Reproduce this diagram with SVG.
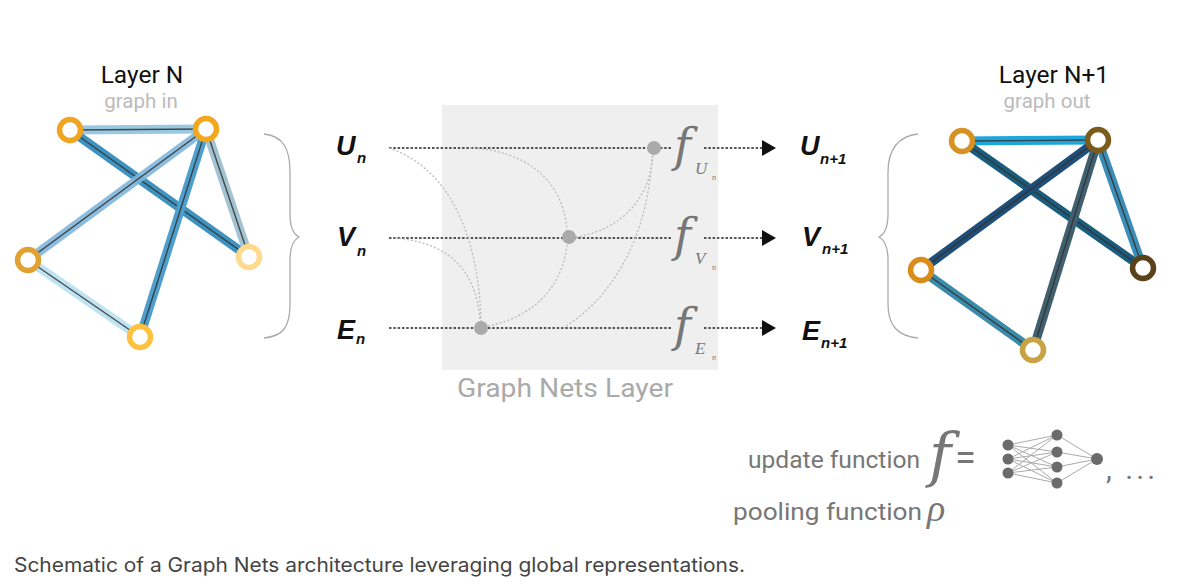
<svg xmlns="http://www.w3.org/2000/svg" width="1183" height="583" viewBox="0 0 1183 583">
<defs>
<style>
.node{fill:#fff;stroke-width:5.5}
.band{fill:none;stroke-width:9;stroke-linecap:butt}
.core{fill:none;stroke:#333;stroke-width:1.4;opacity:0.85}
.brace{fill:none;stroke:#aaa;stroke-width:1.3}
.main{fill:none;stroke:#222;stroke-width:1.7;stroke-dasharray:2.5,1.8}
.flow{fill:none;stroke:#bbb;stroke-width:1.3;stroke-dasharray:2,2}
.dot{fill:#aaa}
.lab{font-family:"Liberation Sans",Arial,sans-serif;font-weight:bold;font-style:italic;fill:#111}
.fn{font-family:"Liberation Serif","Times New Roman",serif;font-style:italic;fill:#777}
.ff{font-family:"DejaVu Serif","Liberation Serif",serif;font-style:italic;fill:#777}
.ttl{font-family:Roboto,"Liberation Sans",sans-serif;fill:#111;font-size:24.5px;text-anchor:middle}
.sub{font-family:Roboto,"Liberation Sans",sans-serif;fill:#bbb;font-size:20.5px;text-anchor:middle}
.leg{font-family:Roboto,"Liberation Sans",sans-serif;fill:#777;font-size:23px}
.nn{fill:#6b6b6b}
.nl{stroke:#aaa;stroke-width:1}
</style>
<marker id="arr" markerWidth="15" markerHeight="17" refX="0" refY="8" orient="auto" markerUnits="userSpaceOnUse">
<path d="M0,0 L14,8 L0,16 Z" fill="#111"/>
</marker>
</defs>

<rect id="layer-box" x="442" y="105" width="276" height="265" fill="#efefef"/>

<g id="labels-top">
<text class="ttl" x="142" y="83">Layer N</text>
<text class="sub" x="141" y="108">graph in</text>
<text class="ttl" x="1054" y="83">Layer N+1</text>
<text class="sub" x="1047" y="108">graph out</text>
</g>

<g id="graph-in">
<g id="edges-in">
<line class="band" x1="70" y1="130" x2="206" y2="129" stroke="#86c0dc" opacity="0.85"/>
<line class="core" x1="70" y1="130" x2="206" y2="129"/>
<line class="band" x1="70" y1="130" x2="249" y2="257" stroke="#3d92c0"/>
<line class="core" x1="70" y1="130" x2="249" y2="257"/>
<line class="band" x1="206" y1="129" x2="28" y2="260" stroke="#7fb6da" opacity="0.9"/>
<line class="core" x1="206" y1="129" x2="28" y2="260"/>
<line class="band" x1="206" y1="129" x2="140" y2="337" stroke="#4f9fcc"/>
<line class="core" x1="206" y1="129" x2="140" y2="337"/>
<line class="band" x1="206" y1="129" x2="249" y2="257" stroke="#a3c3d2"/>
<line class="core" x1="206" y1="129" x2="249" y2="257"/>
<line class="band" x1="28" y1="260" x2="140" y2="337" stroke="#bfe3f2"/>
<line class="core" x1="28" y1="260" x2="140" y2="337"/>
</g>
<circle id="in-n1" class="node" cx="70" cy="130" r="10.5" stroke="#f0a422"/>
<circle id="in-n2" class="node" cx="206" cy="129" r="10.5" stroke="#f2a81c"/>
<circle id="in-n3" class="node" cx="28" cy="260" r="10.5" stroke="#e2a232"/>
<circle id="in-n4" class="node" cx="249" cy="257" r="10.5" stroke="#ffd98c"/>
<circle id="in-n5" class="node" cx="140" cy="337" r="10.5" stroke="#ffc23e"/>
</g>

<g id="graph-out">
<g id="edges-out">
<line class="band" x1="962" y1="141" x2="1098" y2="140" stroke="#1ea6dc" stroke-width="10"/>
<line class="core" x1="962" y1="141" x2="1098" y2="140"/>
<line class="band" x1="962" y1="141" x2="1143" y2="268" stroke="#1a5c7c" stroke-width="11"/>
<line class="core" x1="962" y1="141" x2="1143" y2="268"/>
<line class="band" x1="1098" y1="140" x2="921" y2="270" stroke="#1f4e78" stroke-width="12"/>
<line class="core" x1="1098" y1="140" x2="921" y2="270"/>
<line class="band" x1="1098" y1="140" x2="1033" y2="350" stroke="#41606f" stroke-width="11"/>
<line class="core" x1="1098" y1="140" x2="1033" y2="350"/>
<line class="band" x1="1098" y1="140" x2="1143" y2="268" stroke="#3a8db6" stroke-width="10"/>
<line class="core" x1="1098" y1="140" x2="1143" y2="268"/>
<line class="band" x1="921" y1="270" x2="1033" y2="350" stroke="#3a8aa9" stroke-width="11"/>
<line class="core" x1="921" y1="270" x2="1033" y2="350"/>
</g>
<circle id="out-n1" class="node" cx="962" cy="141" r="10.5" stroke="#d89222"/>
<circle id="out-n2" class="node" cx="1098" cy="140" r="10.5" stroke="#7c5c1a"/>
<circle id="out-n3" class="node" cx="921" cy="270" r="10.5" stroke="#d98c1a"/>
<circle id="out-n4" class="node" cx="1143" cy="268" r="10.5" stroke="#5a421a"/>
<circle id="out-n5" class="node" cx="1033" cy="350" r="10.5" stroke="#c9a244"/>
</g>

<g id="braces">
<path class="brace" d="M264,134 C284,136 290,150 290,172 L290,214 C290,228 293,234 299,237 C293,240 290,246 290,260 L290,304 C290,326 284,336 264,338"/>
<path class="brace" d="M918,134 C898,136 888,150 888,172 L888,214 C888,228 885,234 879,237 C885,240 888,246 888,260 L888,304 C888,326 898,336 918,338"/>
</g>

<g id="inputs">
<text class="lab" x="336" y="155" font-size="27">U</text><text class="lab" x="357" y="163" font-size="15">n</text>
<text class="lab" x="337" y="246" font-size="27">V</text><text class="lab" x="357" y="256" font-size="15">n</text>
<text class="lab" x="337" y="339" font-size="27">E</text><text class="lab" x="356" y="344" font-size="15">n</text>
</g>

<g id="outputs">
<text class="lab" x="800" y="155" font-size="27">U</text><text class="lab" x="820" y="164" font-size="15">n+1</text>
<text class="lab" x="802" y="246" font-size="27">V</text><text class="lab" x="822" y="254" font-size="15">n+1</text>
<text class="lab" x="802" y="340" font-size="27">E</text><text class="lab" x="821" y="348" font-size="15">n+1</text>
</g>

<g id="connectors">
<line class="main" x1="389" y1="148" x2="672" y2="148"/>
<line class="main" x1="389" y1="238" x2="672" y2="238"/>
<line class="main" x1="389" y1="328" x2="672" y2="328"/>
<line class="main" x1="704" y1="148" x2="762" y2="148" marker-end="url(#arr)"/>
<line class="main" x1="704" y1="238" x2="762" y2="238" marker-end="url(#arr)"/>
<line class="main" x1="704" y1="328" x2="762" y2="328" marker-end="url(#arr)"/>
<path class="flow" d="M389,148 C440,165 478,220 481,321"/>
<path class="flow" d="M395,238 C440,242 476,262 480,321"/>
<path class="flow" d="M470,148 C520,150 563,175 567,231"/>
<path class="flow" d="M488,326 C530,318 562,290 567,245"/>
<path class="flow" d="M576,237 C620,230 650,200 653,155"/>
<path class="flow" d="M563,328 C610,300 648,240 652,156"/>
</g>

<g id="aggregators">
<circle class="dot" cx="654" cy="148" r="7"/>
<circle class="dot" cx="569" cy="237" r="7"/>
<circle class="dot" cx="481" cy="328" r="7"/>
</g>

<g id="update-functions">
<text class="ff" x="674" y="161" font-size="46">f</text><text class="fn" x="695" y="174" font-size="17">U</text><text class="fn" x="712" y="180" font-size="8">n</text>
<text class="ff" x="674" y="251" font-size="46">f</text><text class="fn" x="695" y="264" font-size="17">V</text><text class="fn" x="712" y="270" font-size="8">n</text>
<text class="ff" x="674" y="341" font-size="46">f</text><text class="fn" x="695" y="354" font-size="17">E</text><text class="fn" x="712" y="360" font-size="8">n</text>
</g>

<text id="layer-label" x="457" y="397" textLength="216" lengthAdjust="spacingAndGlyphs" font-family="Roboto,'Liberation Sans',sans-serif" font-size="25" fill="#aaa">Graph Nets Layer</text>

<g id="legend">
<text class="leg" x="748" y="468" textLength="172" lengthAdjust="spacingAndGlyphs">update function</text>
<text class="ff" x="929" y="476" font-size="60">f</text>
<text x="955" y="471" font-family="Roboto,'Liberation Sans',sans-serif" font-size="38" fill="#777">=</text>
<g id="nn">
<g class="nl">
<line x1="1008" y1="445" x2="1057" y2="435"/><line x1="1008" y1="445" x2="1057" y2="452"/><line x1="1008" y1="445" x2="1057" y2="467"/><line x1="1008" y1="445" x2="1057" y2="483"/>
<line x1="1008" y1="459" x2="1057" y2="435"/><line x1="1008" y1="459" x2="1057" y2="452"/><line x1="1008" y1="459" x2="1057" y2="467"/><line x1="1008" y1="459" x2="1057" y2="483"/>
<line x1="1008" y1="473" x2="1057" y2="435"/><line x1="1008" y1="473" x2="1057" y2="452"/><line x1="1008" y1="473" x2="1057" y2="467"/><line x1="1008" y1="473" x2="1057" y2="483"/>
<line x1="1057" y1="435" x2="1097" y2="459"/><line x1="1057" y1="452" x2="1097" y2="459"/><line x1="1057" y1="467" x2="1097" y2="459"/><line x1="1057" y1="483" x2="1097" y2="459"/>
</g>
<circle class="nn" cx="1008" cy="445" r="5.5"/><circle class="nn" cx="1008" cy="459" r="5.5"/><circle class="nn" cx="1008" cy="473" r="5.5"/>
<circle class="nn" cx="1057" cy="435" r="5.5"/><circle class="nn" cx="1057" cy="452" r="5.5"/><circle class="nn" cx="1057" cy="467" r="5.5"/><circle class="nn" cx="1057" cy="483" r="5.5"/>
<circle class="nn" cx="1097" cy="459" r="6"/>
</g>
<text x="1106" y="479" font-family="Roboto,'Liberation Sans',sans-serif" font-size="30" fill="#777" letter-spacing="3">, ...</text>
<text class="leg" x="733" y="520" textLength="189" lengthAdjust="spacingAndGlyphs">pooling function</text>
<text class="fn" x="927" y="521" font-size="38">ρ</text>
</g>

<text id="caption" x="14" y="572" textLength="731" lengthAdjust="spacingAndGlyphs" font-family="Inter,Roboto,'Liberation Sans',sans-serif" font-size="20" fill="#444">Schematic of a Graph Nets architecture leveraging global representations.</text>
</svg>
